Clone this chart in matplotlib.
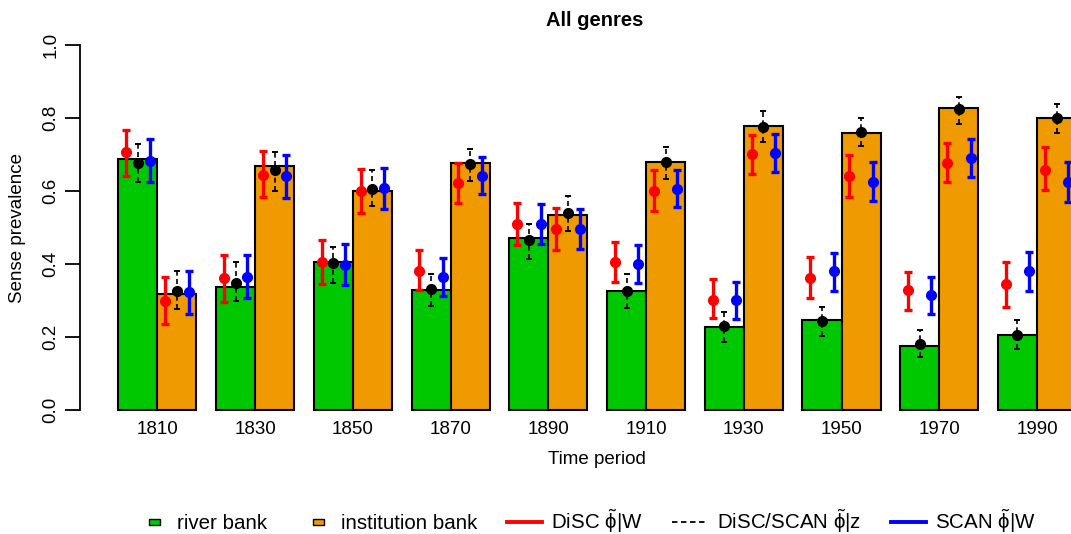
import numpy as np
import matplotlib
matplotlib.use('Agg')
import matplotlib.pyplot as plt
from matplotlib.patches import Patch, Rectangle
from matplotlib.lines import Line2D
from matplotlib.legend_handler import HandlerPatch

plt.rcParams['font.family'] = ['Liberation Sans', 'DejaVu Sans']
plt.rcParams['mathtext.fontset'] = 'custom'
plt.rcParams['mathtext.rm'] = 'Liberation Sans'
plt.rcParams['mathtext.it'] = 'Liberation Sans'

periods = ['1810', '1830', '1850', '1870', '1890', '1910', '1930', '1950', '1970', '1990']

# bar heights
river_bar = [0.688, 0.337, 0.405, 0.328, 0.470, 0.326, 0.227, 0.247, 0.176, 0.205]
inst_bar = [0.318, 0.668, 0.601, 0.678, 0.535, 0.680, 0.778, 0.759, 0.828, 0.801]

# river bank estimates (point, lower, upper)
river_disc = [0.706, 0.362, 0.405, 0.382, 0.510, 0.406, 0.302, 0.363, 0.328, 0.346]
river_disc_lo = [0.641, 0.296, 0.345, 0.328, 0.453, 0.350, 0.251, 0.306, 0.275, 0.283]
river_disc_hi = [0.767, 0.424, 0.465, 0.438, 0.567, 0.459, 0.358, 0.420, 0.378, 0.405]
river_z = [0.678, 0.347, 0.402, 0.332, 0.466, 0.326, 0.230, 0.245, 0.181, 0.205]
river_z_lo = [0.626, 0.298, 0.347, 0.286, 0.414, 0.280, 0.187, 0.203, 0.146, 0.166]
river_z_hi = [0.728, 0.405, 0.448, 0.374, 0.509, 0.372, 0.269, 0.281, 0.219, 0.247]
river_scan = [0.683, 0.364, 0.397, 0.365, 0.510, 0.401, 0.302, 0.382, 0.315, 0.382]
river_scan_lo = [0.624, 0.308, 0.343, 0.312, 0.456, 0.347, 0.249, 0.326, 0.263, 0.325]
river_scan_hi = [0.744, 0.424, 0.455, 0.416, 0.564, 0.451, 0.352, 0.431, 0.364, 0.433]

# institution bank estimates (point, lower, upper)
inst_disc = [0.299, 0.643, 0.600, 0.623, 0.496, 0.600, 0.702, 0.642, 0.678, 0.658]
inst_disc_lo = [0.237, 0.583, 0.541, 0.568, 0.438, 0.545, 0.647, 0.585, 0.626, 0.602]
inst_disc_hi = [0.365, 0.710, 0.660, 0.678, 0.553, 0.658, 0.753, 0.699, 0.731, 0.720]
inst_z = [0.327, 0.658, 0.605, 0.673, 0.540, 0.680, 0.775, 0.763, 0.825, 0.801]
inst_z_lo = [0.278, 0.600, 0.558, 0.628, 0.491, 0.632, 0.735, 0.724, 0.785, 0.758]
inst_z_hi = [0.382, 0.708, 0.658, 0.715, 0.587, 0.721, 0.818, 0.799, 0.858, 0.838]
inst_scan = [0.322, 0.641, 0.607, 0.641, 0.496, 0.605, 0.704, 0.624, 0.690, 0.624]
inst_scan_lo = [0.262, 0.582, 0.551, 0.591, 0.442, 0.555, 0.653, 0.574, 0.639, 0.571]
inst_scan_hi = [0.382, 0.699, 0.662, 0.694, 0.551, 0.658, 0.757, 0.680, 0.742, 0.680]

green = '#00C800'
orange = '#EE9A00'

fig = plt.figure(figsize=(10.71, 5.34), dpi=100)
ax = fig.add_axes([0.0747, 0.2049, 0.9253, 0.738])

x = np.arange(len(periods)) * 2.5
ax.bar(x - 0.5, river_bar, width=1.0, color=green, edgecolor='black', linewidth=1.5, zorder=1)
ax.bar(x + 0.5, inst_bar, width=1.0, color=orange, edgecolor='black', linewidth=1.5, zorder=1)


def draw_err(xpos, val, lo, hi, color, dashed=False):
    val = np.array(val)
    yerr = [val - np.array(lo), np.array(hi) - val]
    if dashed:
        line, caps, bars = ax.errorbar(xpos, val, yerr=yerr, fmt='o', color=color, ms=7,
                                       elinewidth=1.2, capsize=2.2, capthick=1.4, zorder=3)
        bars[0].set_linestyle((0, (3, 2)))
    else:
        ax.errorbar(xpos, val, yerr=yerr, fmt='o', color=color, ms=7,
                    elinewidth=2.4, capsize=3.1, capthick=2.4, zorder=3)


# точки с доверительными интервалами для обоих смыслов
for center, disc, dlo, dhi, z, zlo, zhi, scan, slo, shi in [
        (x - 0.5, river_disc, river_disc_lo, river_disc_hi, river_z, river_z_lo, river_z_hi,
         river_scan, river_scan_lo, river_scan_hi),
        (x + 0.5, inst_disc, inst_disc_lo, inst_disc_hi, inst_z, inst_z_lo, inst_z_hi,
         inst_scan, inst_scan_lo, inst_scan_hi)]:
    draw_err(center - 0.3, disc, dlo, dhi, 'red')
    draw_err(center, z, zlo, zhi, 'black', dashed=True)
    draw_err(center + 0.3, scan, slo, shi, 'blue')

ax.set_xlim(-1.98, 23.37)
ax.set_ylim(-0.04, 1.04)
for s in ['top', 'right', 'bottom']:
    ax.spines[s].set_visible(False)
ax.spines['left'].set_bounds(0, 1)
ax.spines['left'].set_linewidth(1.3)
ax.set_yticks([0, 0.2, 0.4, 0.6, 0.8, 1.0])
ax.set_yticklabels(['0.0', '0.2', '0.4', '0.6', '0.8', '1.0'], rotation=90, va='center')
ax.tick_params(axis='y', length=11, width=1.3, labelsize=13.5, pad=4)
ax.set_xticks(x)
ax.set_xticklabels(periods)
ax.tick_params(axis='x', length=0, labelsize=13.5, pad=-2.5)

fig.text(595 / 1071, 1 - 20 / 534, 'All genres', ha='center', va='center',
         fontsize=14.5, fontweight='bold')
fig.text(597 / 1071, 1 - 460 / 534, 'Time period', ha='center', va='center', fontsize=13.5)
fig.text(18 / 1071, 1 - 228 / 534, 'Sense prevalence', ha='center', va='center',
         rotation=90, fontsize=13.5)


def small_box(legend, orig_handle, xdescent, ydescent, width, height, fontsize):
    return Rectangle((width - 13 - xdescent, height * 0.3 - ydescent), 7.5, 4)


handles = [Patch(facecolor=green, edgecolor='black'),
           Patch(facecolor=orange, edgecolor='black'),
           Line2D([], [], color='red', lw=2.8),
           Line2D([], [], color='black', lw=1.3, ls=(0, (3, 2))),
           Line2D([], [], color='blue', lw=2.8)]
labels = ['river bank', 'institution bank',
          r'DiSC $\tilde{\mathregular{\phi}}$|W',
          r'DiSC/SCAN $\tilde{\mathregular{\phi}}$|z',
          r'SCAN $\tilde{\mathregular{\phi}}$|W']
fig.legend(handles, labels, loc='center', bbox_to_anchor=(584 / 1071, 1 - 521 / 534),
           ncol=5, frameon=False, fontsize=14.8, handlelength=1.7, columnspacing=1.45,
           handletextpad=0.45,
           handler_map={Patch: HandlerPatch(patch_func=small_box)})

plt.savefig('out.png', dpi=100)
